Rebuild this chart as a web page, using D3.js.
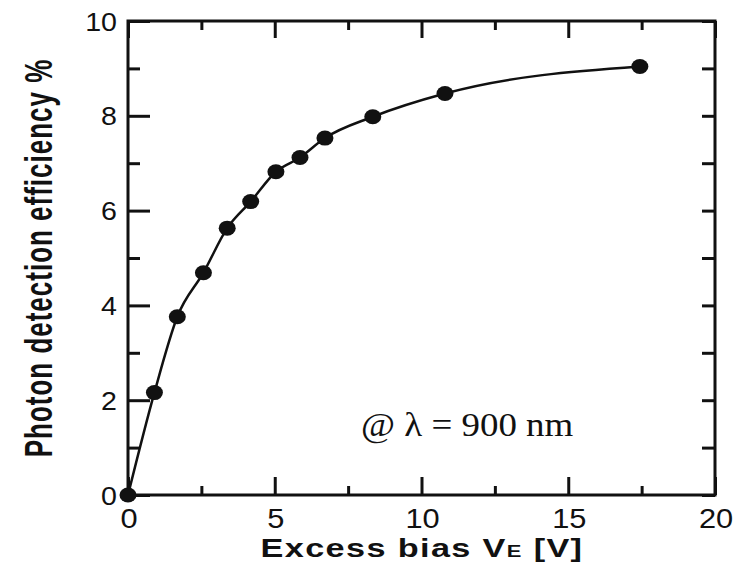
<!DOCTYPE html>
<html>
<head>
<meta charset="utf-8">
<script src="https://cdn.jsdelivr.net/npm/d3@7"></script>
<style>
	body { margin: 0; background: #fff; }
	svg text { font-family: "Liberation Sans", Arial, sans-serif; fill: #111; }
</style>
</head>
<body>
<div id="chart"></div>
<script>
// measured points: excess bias (V) vs PDE (%)
var biasV = [0, 0.9, 1.68, 2.57, 3.38, 4.18, 5.04, 5.86, 6.71, 8.34, 10.8, 17.44];
var pde = [0, 2.16, 3.76, 4.69, 5.63, 6.19, 6.82, 7.12, 7.53, 7.98, 8.47, 9.04];
var xTicks = [0, 5, 10, 15, 20];
var yTicks = [0, 2, 4, 6, 8, 10];

var w = 742, h = 566;
var padLeft = 128, padRight = 715, padTop = 21, padBottom = 495;

var svg = d3.select("#chart").append("svg")
	.attr("width", w)
	.attr("height", h);

var xScale = d3.scaleLinear().domain([0, 20]).range([padLeft, padRight]);
var yScale = d3.scaleLinear().domain([0, 10]).range([padBottom, padTop]);

// 刻度线 (inward)
function drawTicks(axisGen, transform) {
	var g = svg.append("g").attr("transform", transform).call(axisGen);
	g.select(".domain").remove();
	g.selectAll("line").attr("stroke", "#111").attr("stroke-width", 3);
	return g;
}
var xMinor = d3.range(0, 20.01, 2.5);
var yMinor = d3.range(0, 10.01, 1);

// bottom: major 5, minor 2.5
drawTicks(d3.axisTop(xScale).tickValues(xMinor).tickSizeOuter(0).tickFormat(""), "translate(0," + padBottom + ")")
	.selectAll("line").attr("y2", function(d) { return d % 5 === 0 ? -18 : -9; });
// top
drawTicks(d3.axisBottom(xScale).tickValues(xMinor).tickSizeOuter(0).tickFormat(""), "translate(0," + padTop + ")")
	.selectAll("line").attr("y2", function(d) { return d % 5 === 0 ? 17 : 9; });
// left: major 2, minor 1
drawTicks(d3.axisRight(yScale).tickValues(yMinor).tickSizeOuter(0).tickFormat(""), "translate(" + padLeft + ",0)")
	.selectAll("line").attr("x2", function(d) { return d % 2 === 0 ? 22 : 12; });
// right
drawTicks(d3.axisLeft(yScale).tickValues(yMinor).tickSizeOuter(0).tickFormat(""), "translate(" + padRight + ",0)")
	.selectAll("line").attr("x2", -13);

// frame
svg.append("rect")
	.attr("x", padLeft).attr("y", padTop)
	.attr("width", padRight - padLeft).attr("height", padBottom - padTop)
	.attr("fill", "none").attr("stroke", "#111").attr("stroke-width", 3);

// tick labels
svg.append("g").selectAll("text").data(xTicks).enter().append("text")
	.attr("transform", function(d) { return "translate(" + (xScale(d) + 1) + "," + (padBottom + 33) + ") scale(1.1,1)"; })
	.attr("text-anchor", "middle")
	.style("font-size", "28px")
	.text(function(d) { return d; });

svg.append("g").selectAll("text").data(yTicks).enter().append("text")
	.attr("transform", function(d) { return "translate(" + (padLeft - 11) + "," + (yScale(d) + 9.5) + ") scale(1.1,1)"; })
	.attr("text-anchor", "end")
	.style("font-size", "26px")
	.text(function(d) { return d; });

// axis titles (the scanned figure is wider than tall)
var xt = svg.append("text")
	.attr("transform", "translate(422,557) scale(1.37,1)")
	.attr("text-anchor", "middle")
	.style("font-size", "25px")
	.style("font-weight", "bold")
	.style("letter-spacing", "1px");
xt.append("tspan").text("Excess bias V");
xt.append("tspan").style("font-size", "16px").text("E");
xt.append("tspan").text("  [V]");

svg.append("text")
	.attr("transform", "translate(52,258) scale(1.5,1) rotate(-90)")
	.attr("text-anchor", "middle")
	.style("font-size", "26px")
	.style("font-weight", "bold")
	.style("letter-spacing", "1px")
	.text("Photon detection efficiency %");

// curve
var data = biasV.map(function(v, i) { return [v, pde[i]]; });
var line = d3.line()
	.x(function(d) { return xScale(d[0]); })
	.y(function(d) { return yScale(d[1]); })
	.curve(d3.curveMonotoneX);

svg.append("path")
	.attr("d", line(data))
	.attr("fill", "none")
	.attr("stroke", "#111")
	.attr("stroke-width", 2.5);

svg.append("g").selectAll("ellipse").data(data).enter().append("ellipse")
	.attr("cx", function(d) { return xScale(d[0]); })
	.attr("cy", function(d) { return yScale(d[1]); })
	.attr("rx", 8.5)
	.attr("ry", 7.5)
	.attr("fill", "#111");

// annotation
svg.append("text")
	.attr("transform", "translate(361,436) scale(1.12,1)")
	.style("font-family", "'Liberation Serif', 'Times New Roman', serif")
	.style("font-size", "33px")
	.text("@ \u03bb = 900 nm");
</script>
</body>
</html>
